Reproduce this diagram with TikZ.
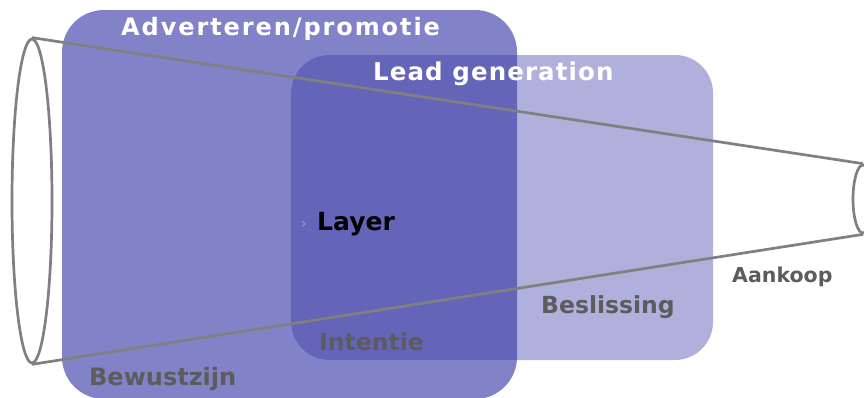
\documentclass[tikz,border=0pt]{standalone}
\usepackage{fontspec}
\setmainfont{DejaVu Sans}
\usetikzlibrary{shapes.geometric}
\definecolor{fillA}{RGB}{130,130,200}
\definecolor{fillB}{RGB}{176,176,221}
\definecolor{fillAB}{RGB}{100,100,184}
\definecolor{txtgrey}{RGB}{92,92,92}
\definecolor{funnel}{RGB}{128,128,128}
\tikzset{
  whitelabel/.style={text=white, font=\bfseries\fontsize{24}{28}\selectfont, anchor=base west, inner sep=0pt},
  greylabel/.style={text=txtgrey, font=\bfseries\fontsize{24}{28}\selectfont, anchor=base west, inner sep=0pt},
  rim/.style={ellipse, draw=funnel, line width=2.7pt, inner sep=0pt},
  funnelline/.style={draw=funnel, line width=2.7pt},
}
\begin{document}
\begin{tikzpicture}[x=1pt,y=-1pt]
\useasboundingbox (0,0) rectangle (864,397);
% areas
\fill[fillA, rounded corners=42pt] (62,10) rectangle (517,399);
\fill[fillB, rounded corners=38pt] (291,55) rectangle (713,360);
\begin{scope}
  \clip[rounded corners=42pt] (62,10) rectangle (517,399);
  \fill[fillAB, rounded corners=38pt] (291,55) rectangle (713,360);
\end{scope}
% funnel
\node[rim, minimum width=40pt, minimum height=324pt] (L) at (32,201) {};
\node[rim, minimum width=20pt, minimum height=68pt] (R) at (863,199) {};
\draw[funnelline] (L.north) -- (R.north);
\draw[funnelline] (L.south) -- (R.south);
% labels
\node[whitelabel, font=\bfseries\fontsize{24}{28}\selectfont\addfontfeature{LetterSpace=8}] (adv) at (121,35) {Adverteren/promotie};
\node[whitelabel, font=\bfseries\fontsize{24.5}{28}\selectfont\addfontfeature{LetterSpace=4.5}] (lead) at (373,80) {Lead generation};
\node[anchor=base west, inner sep=0pt, text=funnel!70, font=\fontsize{14}{16}\selectfont] (bul) at (301,228) {›};
\node[anchor=base west, inner sep=0pt, text=black, font=\bfseries\fontsize{25}{28}\selectfont] (layer) at (317,230) {Layer};
\node[greylabel, font=\bfseries\fontsize{23.5}{28}\selectfont] (int) at (319,350) {Intentie};
\node[greylabel] (bew) at (89,385) {Bewustzijn};
\node[greylabel, font=\bfseries\fontsize{23.5}{28}\selectfont] (bes) at (541,313) {Beslissing};
\node[greylabel, font=\bfseries\fontsize{20.5}{24}\selectfont] (aan) at (732,282) {Aankoop};
\end{tikzpicture}
\end{document}
